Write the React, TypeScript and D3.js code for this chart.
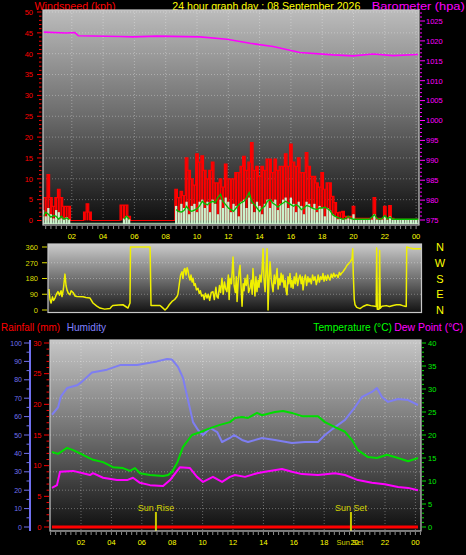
import React from "react";
import * as d3 from "d3";

const FONT = "'Liberation Sans', Arial, Helvetica, sans-serif";

// ---------- text ----------
const titleWind = "Windspeed (kph)";
const titleDate = "24 hour graph day : 08 September 2026";
const titleBaro = "Barometer (hpa)";
const titleRain = "Rainfall (mm)";
const titleHum = "Humidity";
const titleTemp = "Temperature (°C)";
const titleDew = "Dew Point (°C)";
const compassLabels = ["N", "W", "S", "E", "N"];
const compassValues = [360, 270, 180, 90, 0];

const hourTickValues = [2, 4, 6, 8, 10, 12, 14, 16, 18, 20, 22, 24];
const hourTickLabels = ["02", "04", "06", "08", "10", "12", "14", "16", "18", "20", "22", "00"];
const windTicks = [0, 5, 10, 15, 20, 25, 30, 35, 40, 45, 50];
const baroTicks = [975, 980, 985, 990, 995, 1000, 1005, 1010, 1015, 1020, 1025];
const dirTicks = [0, 90, 180, 270, 360];
const humTicks = [0, 10, 20, 30, 40, 50, 60, 70, 80, 90, 100];
const rainTicks = [0, 5, 10, 15, 20, 25, 30];
const tempTicks = [0, 5, 10, 15, 20, 25, 30, 35, 40];

// ---------- wind (10-minute bins, index * 1/6 h) ----------
const windBinHours = 1 / 6;
const windGust = [
  0, 5.5, 5.5, 11, 5.5, 3.4, 5.5, 7.5, 5.5, 3.4, 3.4, 3.4,
  0, 0, 0, 0, 0,
  2, 4, 2,
  0, 0, 0, 0, 0, 0, 0, 0, 0, 0, 0,
  3.7, 3.7, 3.7, 1,
  0, 0, 0, 0, 0, 0, 0, 0, 0, 0, 0, 0, 0, 0, 0, 0, 0,
  7.5, 5.5, 7, 6, 15, 12, 10, 8.5, 16, 14,
  15.5, 12, 10, 12, 14, 9, 9, 10, 8, 13.5,
  10, 10, 10, 11.5, 11.5, 13, 15.4, 12, 14, 18.7,
  12, 13, 10.6, 13, 12, 14.7, 14.7, 11.5, 14.7, 12,
  13, 13, 16, 13, 18.3, 14, 13, 15, 11.5, 11.5,
  16.3, 13, 10.6, 10.6, 9, 8, 11.5, 7.5, 9, 9,
  5.8, 4.3, 1.9, 2, 2.2, 1, 1, 1, 3.4, 0.5,
  0.5, 0.5, 0.5, 0.5, 0.5, 0.5, 5.5, 0.5, 0.5, 0.5,
  3.4, 0.5, 3.6, 0.5, 0.3, 0.3, 0.3, 0.3, 0.3, 0.3,
  0.3, 0.3, 0.3, 0.3,
];
const windSpeed = [
  0, 2.5, 1, 3, 1.5, 0.5, 2.5, 2, 0.5, 0.3, 0.8, 0.3,
  0, 0, 0, 0, 0, 0, 0, 0, 0, 0, 0, 0, 0, 0, 0, 0, 0, 0, 0, 0,
  0.5, 1, 0.3,
  0, 0, 0, 0, 0, 0, 0, 0, 0, 0, 0, 0, 0, 0, 0, 0, 0,
  3.5, 2, 4, 3, 4.5, 1.5, 3.5, 4, 2, 4.5,
  5, 3, 4.5, 2, 5, 4, 1.5, 5, 3, 5.5,
  4.5, 2, 4, 3.5, 1, 4.5, 5, 3, 5.5, 4,
  2, 4.5, 3.5, 1.5, 4, 5, 3, 4.5, 5, 2.5,
  4, 5, 5.5, 3, 5.5, 4, 2, 4.5, 3.5, 1.5,
  4.5, 4, 3, 4, 2, 3.5, 3, 1, 3, 2.5,
  1.5, 1, 0.3, 0.5, 0.3, 0.3, 0.5, 0.3, 1.5, 0.2,
  0.2, 0.2, 0.2, 0.2, 0.2, 0.2, 1.5, 0.2, 0.2, 0.2,
  1, 0.2, 1, 0.2, 0.2, 0.2, 0.2, 0.2, 0.2, 0.2,
  0.2, 0.2, 0.2, 0.2,
];
const windAvg = [
  0, 1, 2, 1.5, 0.8, 1.2, 1, 0.3, 1, 0.3, 0.6, 0.2,
  0, 0, 0, 0, 0, 0, 0, 0, 0, 0, 0, 0, 0, 0, 0, 0, 0, 0, 0, 0,
  0.3, 1, 0.3,
  0, 0, 0, 0, 0, 0, 0, 0, 0, 0, 0, 0, 0, 0, 0, 0, 0,
  2.6, 2.2, 2, 2.4, 3.4, 2.5, 2.2, 2.5, 2.8, 3.5,
  4.6, 4, 3.8, 4.3, 4.6, 4.3, 5.5, 6.3, 4.5, 3.8,
  3, 2.6, 2.2, 3, 3.8, 4.3, 4.6, 5.5, 6.7, 4.5,
  3.8, 3, 2.2, 3, 3.4, 4.6, 5, 4.2, 3.8, 3.2,
  3.8, 4.2, 4.6, 4.2, 3.8, 3.4, 3.8, 3.4, 2.6, 3,
  3.6, 3.4, 3, 2.8, 2.6, 3, 3, 3.2, 2.8, 2.4,
  1.4, 1, 0.7, 0.5, 0.3, 0.5, 1, 0.5, 0.3, 0.3,
  0.3, 0.3, 0.3, 0.3, 0.3, 0.8, 1.4, 0.5, 0.3, 0.5,
  1.2, 0.4, 0.8, 0.3, 0.3, 0.3, 0.3, 0.3, 0.3, 0.3,
  0.3, 0.3, 0.3, 0.3,
];

// ---------- barometer ----------
const baroHours = [0.18, 1.67, 2.2, 2.42, 5.08, 5.9, 7.44, 10.19, 11.91, 13.39, 14.86, 16.58, 18.7, 19.98, 21.25, 22.52, 24.12];
const baroValues = [1022.2, 1022.0, 1022.1, 1021.3, 1021.1, 1021.0, 1021.2, 1021.0, 1020.4, 1019.4, 1018.6, 1017.1, 1016.5, 1016.25, 1016.7, 1016.3, 1016.6];

// ---------- wind direction ----------
const dirHours = [
  0.22, 0.29, 0.36, 0.45, 0.52, 0.61, 0.7, 0.8, 0.9, 1.0, 1.06, 1.15, 1.25, 1.32, 1.38, 1.47, 1.57, 1.65, 1.77, 1.9,
  2.02, 2.41, 2.6, 2.86, 2.95, 3.05, 3.3, 3.5, 3.8, 4.14, 4.25, 4.34, 4.7, 4.98, 5.15, 5.3, 5.43, 5.46, 6.72, 6.78,
  7.36, 7.5, 7.68, 7.81, 7.95, 8.13, 8.3, 8.45, 8.51, 8.6,
  8.68, 8.77, 8.83, 8.9, 8.96, 9.03, 9.1, 9.16, 9.22, 9.29, 9.35, 9.42, 9.48, 9.55, 9.62, 9.7, 9.8, 9.88, 9.95, 10.03,
  10.12, 10.2, 10.28, 10.38, 10.46, 10.55, 10.65, 10.76, 10.85, 10.95, 11.02, 11.09, 11.18, 11.25, 11.34, 11.42, 11.5, 11.58, 11.66, 11.75,
  11.8, 11.86, 11.95, 12.05, 12.12, 12.2, 12.26, 12.31, 12.38, 12.44, 12.5, 12.57, 12.63, 12.7, 12.76, 12.82, 12.9, 12.98, 13.05, 13.14,
  13.22, 13.28, 13.33, 13.4, 13.46, 13.52, 13.59, 13.66, 13.72, 13.78, 13.85, 13.92, 13.98, 14.04, 14.11, 14.18, 14.24, 14.3, 14.36, 14.43,
  14.5, 14.56, 14.62, 14.7, 14.76, 14.82, 14.88, 14.95, 15.01, 15.07, 15.14, 15.2, 15.26, 15.33, 15.4, 15.46, 15.52, 15.58, 15.64, 15.71,
  15.78, 15.84, 15.91, 15.98, 16.05, 16.12, 16.2, 16.28, 16.36, 16.43, 16.5, 16.55, 16.62, 16.7, 16.78, 16.86, 16.93, 17.0, 17.08, 17.16,
  17.24, 17.32, 17.4, 17.45, 17.52, 17.6, 17.68, 17.76, 17.83, 17.9, 17.98, 18.06, 18.14, 18.22, 18.28, 18.36, 18.44, 18.52, 18.6, 18.66,
  18.73, 18.8, 18.88, 18.95, 19.02, 19.12, 19.2, 19.28, 19.38, 19.48, 19.58, 19.7, 19.74, 19.78, 19.84, 19.89, 20.0, 20.21, 20.4, 20.66,
  20.9, 21.17, 21.25, 21.28, 21.32, 21.37, 21.43, 21.47, 21.51, 21.62, 21.9, 22.1, 22.33, 22.55, 22.78, 22.95, 23.1, 23.18, 23.21, 23.4,
  23.62, 24.13,
];
const dirValues = [
  120, 60, 40, 75, 55, 68, 90, 105, 85, 110, 77, 120, 205, 140, 115, 95, 87, 110, 100, 80,
  77, 76, 72, 68, 55, 40, 22, 11, 5, 8, 20, 26, 28, 30, 20, 11, 40, 360, 360, 26,
  26, 15, 0, 11, 30, 49, 60, 77, 90, 150,
  200, 219, 180, 230, 237, 200, 241, 225, 190, 171, 200, 160, 181, 140, 150, 115, 124, 95, 110, 80,
  87, 60, 95, 68, 90, 55, 100, 105, 60, 130, 75, 68, 140, 100, 181, 90, 160, 120, 105, 200,
  60, 181, 150, 303, 140, 100, 190, 49, 160, 220, 256, 130, 21, 150, 110, 181, 140, 200, 100, 124,
  170, 90, 237, 150, 80, 190, 105, 170, 130, 200, 160, 230, 350, 180, 105, 250, 350, 0, 170, 275,
  180, 140, 105, 200, 150, 190, 237, 120, 180, 143, 210, 160, 200, 130, 170, 110, 87, 190, 150, 209,
  130, 170, 124, 190, 150, 210, 140, 180, 200, 150, 190, 115, 170, 200, 140, 190, 160, 181, 150, 200,
  170, 190, 145, 162, 200, 160, 190, 175, 209, 165, 195, 170, 200, 180, 171, 205, 185, 210, 190, 200,
  200, 185, 215, 200, 210, 219, 230, 240, 256, 265, 275, 294, 350, 200, 60, 30, 15, 8, 20, 30,
  25, 21, 20, 355, 5, 5, 5, 340, 10, 21, 25, 20, 26, 30, 30, 25, 21, 20, 360, 355,
  350, 350,
];

// ---------- humidity / temperature / dew point ----------
const humHours = [0.09, 0.49, 0.68, 1.08, 1.74, 2.07, 2.72, 3.71, 4.57, 5.68, 6.34, 7.0, 7.66, 7.99, 8.38, 8.71, 9.04, 9.37, 9.7, 10.03,
  10.5, 10.96, 11.28, 11.8, 12.07, 12.59, 12.99, 13.91, 14.76, 15.88, 16.74, 17.59, 18.05, 18.71, 19.37, 20.03, 20.49, 21.14, 21.47, 21.8,
  22.2, 22.86, 23.52, 24.17];
const humValues = [61, 65, 71, 75.5, 77, 79, 84, 85.5, 88, 88, 89, 90, 91.3, 91, 87, 81, 69, 57, 52.7, 50,
  53.8, 51.6, 46.2, 48.4, 50, 47.3, 46.2, 48.4, 47.3, 45.7, 46.2, 46.2, 50, 54.3, 58.2, 65.2, 70.7, 73.4, 75.5, 70.7,
  68, 69.6, 69, 66.3];

const tempHours = [0.09, 0.49, 1.08, 1.48, 2.13, 2.79, 3.45, 4.1, 4.76, 5.22, 5.55, 5.88, 6.54, 7.4, 7.73, 7.99, 8.32, 8.71, 9.3, 9.83,
  10.5, 11.14, 11.8, 12.13, 12.59, 12.99, 13.58, 13.91, 14.76, 15.29, 15.88, 16.54, 17.59, 18.05, 18.71, 19.37, 19.83, 20.22, 20.88, 21.47,
  22.13, 22.86, 23.52, 24.17];
const tempValues = [16.3, 15.9, 17.2, 16.7, 15.7, 14.6, 14.1, 13, 12.8, 12.2, 12.8, 11.7, 11.3, 11.1, 11.3, 12, 13.9, 17.4, 20, 20.6,
  21.5, 22.2, 22.8, 23.7, 23.9, 23.7, 24.8, 24.3, 25, 25.2, 24.8, 24.1, 24.1, 22.8, 21.7, 20.7, 18.9, 16.7, 15.2, 15,
  15.7, 15, 14.3, 15];

const dewHours = [0.09, 0.42, 0.62, 1.48, 2.13, 2.59, 2.79, 3.45, 4.37, 5.03, 5.42, 5.88, 6.54, 7.4, 7.86, 8.51, 9.17, 9.63, 10.03, 10.68,
  11.28, 11.8, 12.13, 12.79, 13.58, 14.11, 15.22, 15.88, 16.54, 17.59, 18.71, 19.37, 20.22, 21.14, 21.99, 22.86, 23.52, 24.17];
const dewValues = [8.5, 9.1, 12, 12.2, 11.7, 11.3, 11.7, 10.7, 10.2, 10.2, 10.7, 9.6, 9.1, 8.9, 10.2, 13, 12.8, 10.9, 9.8, 10.9,
  9.8, 10.9, 11.3, 10.9, 11.7, 12, 12.6, 12, 11.5, 11.3, 11.7, 11.3, 10.2, 9.6, 9.3, 8.7, 8.5, 8];

const rainHours = [0.09, 24.17];
const rainValues = [0, 0];

const sunRise = 6.93;
const sunSet = 19.76;

export default function App() {
  // panel 1 : wind + barometer
  const p1 = { x0: 43, x1: 419, y0: 10, y1: 225 };
  const xW = d3.scaleLinear().domain([0, 24]).range([40.5, 416.1]);
  const yW = d3.scaleLinear().domain([0, 50]).range([220.5, 12]);
  const yB = d3.scaleLinear().domain([975, 1025]).range([220, 21]);

  // panel 2 : direction
  const p2 = { x0: 48, x1: 421.5, y0: 244, y1: 312.5 };
  const xD = d3.scaleLinear().domain([0, 24]).range([45.5, 419]);
  const yD = d3.scaleLinear().domain([0, 360]).range([310, 247]);

  // panel 3 : temp / humidity / rain
  const p3 = { x0: 50, x1: 421, y0: 340, y1: 531 };
  const xT = d3.scaleLinear().domain([0, 24]).range([50.6, 415.4]);
  const yH = d3.scaleLinear().domain([0, 100]).range([527, 343]);
  const yR = d3.scaleLinear().domain([0, 30]).range([527, 343]);
  const yT = d3.scaleLinear().domain([0, 40]).range([527, 343]);

  const gustLine = d3
    .line<number>()
    .x((_, i) => xW(i * windBinHours))
    .y((d) => yW(d))
    .curve(d3.curveStep)(windGust) as string;
  const avgLine = d3
    .line<number>()
    .defined((d) => d > 0)
    .x((_, i) => xW(i * windBinHours))
    .y((d) => yW(d))(windAvg) as string;

  const pairLine = (
    hs: number[],
    vs: number[],
    xs: d3.ScaleLinear<number, number>,
    ys: d3.ScaleLinear<number, number>
  ) =>
    d3
      .line<number>()
      .x((h) => xs(h))
      .y((_, i) => ys(vs[i]))(hs) as string;

  const baroPath = pairLine(baroHours, baroValues, xW, yB);
  const dirPath = pairLine(dirHours, dirValues, xD, yD);
  const humPath = pairLine(humHours, humValues, xT, yH);
  const tempPath = pairLine(tempHours, tempValues, xT, yT);
  const dewPath = pairLine(dewHours, dewValues, xT, yT);
  const rainPath = pairLine(rainHours, rainValues, xT, yR);

  const minorHours = d3.range(0, 24.4, 1 / 3);
  const grid = { stroke: "#ffffff", strokeOpacity: 0.32, strokeDasharray: "1,2", strokeWidth: 1 };
  const tick = { fontFamily: FONT, fontSize: 7.5 };
  const title = { fontFamily: FONT, fontSize: 10.5 };

  return (
    <svg
      width={466}
      height={555}
      style={{ position: "fixed", left: 0, top: 0, display: "block" }}
      xmlns="http://www.w3.org/2000/svg"
    >
      <defs>
        <linearGradient id="g1" x1="0" y1="0" x2="0" y2="1">
          <stop offset="0" stopColor="#bcbcbc" />
          <stop offset="0.5" stopColor="#6a6a6a" />
          <stop offset="1" stopColor="#0c0c0c" />
        </linearGradient>
        <linearGradient id="g2" x1="0" y1="0" x2="0" y2="1">
          <stop offset="0" stopColor="#cacaca" />
          <stop offset="0.5" stopColor="#727272" />
          <stop offset="1" stopColor="#121212" />
        </linearGradient>
        <linearGradient id="g3" x1="0" y1="0" x2="0" y2="1">
          <stop offset="0" stopColor="#c6c6c6" />
          <stop offset="0.5" stopColor="#6e6e6e" />
          <stop offset="1" stopColor="#0e0e0e" />
        </linearGradient>
        <clipPath id="c1">
          <rect x={p1.x0} y={p1.y0} width={p1.x1 - p1.x0} height={p1.y1 - p1.y0} />
        </clipPath>
        <clipPath id="c2">
          <rect x={p2.x0} y={p2.y0} width={p2.x1 - p2.x0} height={p2.y1 - p2.y0} />
        </clipPath>
        <clipPath id="c3">
          <rect x={p3.x0} y={p3.y0} width={p3.x1 - p3.x0} height={p3.y1 - p3.y0} />
        </clipPath>
      </defs>
      <rect x={0} y={0} width={466} height={555} fill="#000" />

      {/* ================= PANEL 1 ================= */}
      <text x={34.5} y={9.5} fill="#ff0000" {...title} textLength={81} lengthAdjust="spacingAndGlyphs">{titleWind}</text>
      <text x={172.3} y={9.5} fill="#ffff00" {...title} textLength={188} lengthAdjust="spacingAndGlyphs">{titleDate}</text>
      <text x={371.7} y={9.5} fill="#ff00ff" {...title} textLength={93} lengthAdjust="spacingAndGlyphs">{titleBaro}</text>

      <rect x={p1.x0} y={p1.y0} width={p1.x1 - p1.x0} height={p1.y1 - p1.y0} fill="url(#g1)" />
      <g clipPath="url(#c1)">
        {windTicks.slice(1).map((v) => (
          <line key={"wg" + v} x1={p1.x0} x2={p1.x1} y1={yW(v)} y2={yW(v)} {...grid} />
        ))}
        {hourTickValues.map((h) => (
          <line key={"wv" + h} x1={xW(h)} x2={xW(h)} y1={p1.y0} y2={p1.y1} {...grid} />
        ))}
        {windGust.map((v, i) =>
          v > 0 ? (
            <rect
              key={"wgb" + i}
              x={xW(i * windBinHours) - 1.05}
              width={2.1}
              y={yW(v)}
              height={yW(0) - yW(v)}
              fill="#ff0000"
            />
          ) : null
        )}
        <path d={gustLine} fill="none" stroke="#ff0000" strokeWidth={1.2} />
        <line x1={p1.x0} x2={p1.x1} y1={223.3} y2={223.3} stroke="#b8e8b8" strokeWidth={1} />
        {windSpeed.map((v, i) =>
          v > 0 ? (
            <rect
              key={"ws" + i}
              x={xW(i * windBinHours) - 1.1}
              width={2.2}
              y={yW(v)}
              height={224 - yW(v)}
              fill="#ccf2cc"
            />
          ) : null
        )}
        <path d={avgLine} fill="none" stroke="#00c000" strokeWidth={1.3} />
        <path d={baroPath} fill="none" stroke="#ff00ff" strokeWidth={1.6} />
      </g>
      <rect x={p1.x0} y={p1.y0} width={p1.x1 - p1.x0} height={p1.y1 - p1.y0} fill="none" stroke="#c8c8c8" strokeWidth={1.2} />
      {/* left wind axis */}
      {d3.range(0, 51, 1).map((v) => (
        <line key={"wm" + v} x1={v % 5 === 0 ? 37 : 39} x2={41.5} y1={yW(v)} y2={yW(v)} stroke="#ff0000" strokeWidth={1} />
      ))}
      {windTicks.map((v) => (
        <text key={"wl" + v} x={33} y={yW(v) + 2.8} textAnchor="end" fill="#ff0000" {...tick}>{v}</text>
      ))}
      {/* right baro axis */}
      {d3.range(975, 1028, 1).map((v) => (
        <line key={"bm" + v} x1={420} x2={v % 5 === 0 ? 425 : 422} y1={yB(v)} y2={yB(v)} stroke="#ff00ff" strokeWidth={1} />
      ))}
      {baroTicks.map((v) => (
        <text key={"bl" + v} x={426} y={yB(v) + 2.8} fill="#ff00ff" {...tick}>{v}</text>
      ))}
      {/* x axis */}
      {minorHours.map((h, i) =>
        xW(h) >= p1.x0 && xW(h) <= p1.x1 ? (
          <line key={"wx" + i} x1={xW(h)} x2={xW(h)} y1={226} y2={229} stroke="#8a8a8a" strokeWidth={1} />
        ) : null
      )}
      {hourTickValues.map((h, i) => (
        <text key={"wxl" + h} x={xW(h)} y={239} textAnchor="middle" fill="#ffff00" {...tick}>{hourTickLabels[i]}</text>
      ))}

      {/* ================= PANEL 2 ================= */}
      <rect x={p2.x0} y={p2.y0} width={p2.x1 - p2.x0} height={p2.y1 - p2.y0} fill="url(#g2)" />
      <g clipPath="url(#c2)">
        {dirTicks.slice(1, 4).map((v) => (
          <line key={"dg" + v} x1={p2.x0} x2={p2.x1} y1={yD(v)} y2={yD(v)} {...grid} />
        ))}
        <path d={dirPath} fill="none" stroke="#f0f000" strokeWidth={1.5} strokeLinejoin="round" />
      </g>
      <rect x={p2.x0} y={p2.y0} width={p2.x1 - p2.x0} height={p2.y1 - p2.y0} fill="none" stroke="#c8c8c8" strokeWidth={1.2} />
      {dirTicks.map((v) => (
        <line key={"dm" + v} x1={42} x2={47} y1={yD(v)} y2={yD(v)} stroke="#dddd00" strokeWidth={1} />
      ))}
      {dirTicks.map((v) => (
        <text key={"dl" + v} x={38} y={yD(v) + 2.8} textAnchor="end" fill="#dddd00" {...tick}>{v}</text>
      ))}
      {compassLabels.map((c, i) => (
        <text key={"cl" + i} x={440} y={yD(compassValues[i]) + 4} textAnchor="middle" fill="#ffff00" fontFamily={FONT} fontSize={11}>{c}</text>
      ))}

      {/* ================= PANEL 3 ================= */}
      <text x={1} y={330.5} fill="#ff0000" {...title} textLength={59} lengthAdjust="spacingAndGlyphs">{titleRain}</text>
      <text x={66.7} y={330.5} fill="#8080ff" {...title} textLength={39.3} lengthAdjust="spacingAndGlyphs">{titleHum}</text>
      <text x={313.3} y={330.5} fill="#00ff00" {...title} textLength={78.7} lengthAdjust="spacingAndGlyphs">{titleTemp}</text>
      <text x={394.3} y={330.5} fill="#ff00ff" {...title} textLength={69} lengthAdjust="spacingAndGlyphs">{titleDew}</text>

      <rect x={p3.x0} y={p3.y0} width={p3.x1 - p3.x0} height={p3.y1 - p3.y0} fill="url(#g3)" />
      <g clipPath="url(#c3)">
        {humTicks.slice(1).map((v) => (
          <line key={"hg" + v} x1={p3.x0} x2={p3.x1} y1={yH(v)} y2={yH(v)} {...grid} />
        ))}
        {hourTickValues.map((h) => (
          <line key={"tv" + h} x1={xT(h)} x2={xT(h)} y1={p3.y0} y2={p3.y1} {...grid} />
        ))}
        <path d={humPath} fill="none" stroke="#7e7ef2" strokeWidth={2} strokeLinejoin="round" />
        <path d={tempPath} fill="none" stroke="#00dd00" strokeWidth={2} strokeLinejoin="round" />
        <path d={dewPath} fill="none" stroke="#ff00ff" strokeWidth={2} strokeLinejoin="round" />
        <path d={rainPath} fill="none" stroke="#ff0000" strokeWidth={3} />
        <line x1={xT(sunRise)} x2={xT(sunRise)} y1={512} y2={p3.y1} stroke="#c8c800" strokeWidth={2} />
        <line x1={xT(sunSet)} x2={xT(sunSet)} y1={512} y2={p3.y1} stroke="#c8c800" strokeWidth={2} />
      </g>
      <text x={xT(sunRise)} y={511} textAnchor="middle" fill="#d4d400" fontFamily={FONT} fontSize={9}>Sun Rise</text>
      <text x={xT(sunSet)} y={511} textAnchor="middle" fill="#d4d400" fontFamily={FONT} fontSize={9}>Sun Set</text>
      <rect x={p3.x0} y={p3.y0} width={p3.x1 - p3.x0} height={p3.y1 - p3.y0} fill="none" stroke="#c8c8c8" strokeWidth={1.2} />
      {/* humidity axis */}
      <line x1={30} x2={30} y1={340} y2={531} stroke="#7070f0" strokeWidth={2} />
      {d3.range(0, 101, 5).map((v) => (
        <line key={"hm" + v} x1={v % 10 === 0 ? 24 : 26.5} x2={29} y1={yH(v)} y2={yH(v)} stroke="#7070f0" strokeWidth={1} />
      ))}
      {humTicks.map((v) => (
        <text key={"hl" + v} x={22} y={yH(v) + 2.6} textAnchor="end" fill="#7070f0" fontFamily={FONT} fontSize={7}>{v}</text>
      ))}
      {/* rain axis */}
      {d3.range(0, 31, 1).map((v) => (
        <line key={"rm" + v} x1={v % 5 === 0 ? 44 : 46.5} x2={49} y1={yR(v)} y2={yR(v)} stroke="#ff0000" strokeWidth={1} />
      ))}
      {rainTicks.map((v) => (
        <text key={"rl" + v} x={41.5} y={yR(v) + 2.8} textAnchor="end" fill="#ff0000" {...tick}>{v}</text>
      ))}
      {/* temperature axis */}
      {d3.range(0, 41, 1).map((v) => (
        <line key={"tm" + v} x1={422} x2={v % 5 === 0 ? 426 : 424} y1={yT(v)} y2={yT(v)} stroke="#00dd00" strokeWidth={1} />
      ))}
      {tempTicks.map((v) => (
        <text key={"tl" + v} x={428} y={yT(v) + 2.8} fill="#00ee00" {...tick}>{v}</text>
      ))}
      {/* x axis */}
      {minorHours.map((h, i) =>
        xT(h) >= p3.x0 && xT(h) <= p3.x1 ? (
          <line key={"tx" + i} x1={xT(h)} x2={xT(h)} y1={532} y2={535} stroke="#8a8a8a" strokeWidth={1} />
        ) : null
      )}
      {hourTickValues.map((h, i) => (
        <text key={"txl" + h} x={xT(h)} y={545} textAnchor="middle" fill="#ffff00" {...tick}>{hourTickLabels[i]}</text>
      ))}
      <text x={xT(sunSet) - 1} y={545} textAnchor="middle" fill="#d4d400" {...tick}>Sun Set</text>
    </svg>
  );
}
